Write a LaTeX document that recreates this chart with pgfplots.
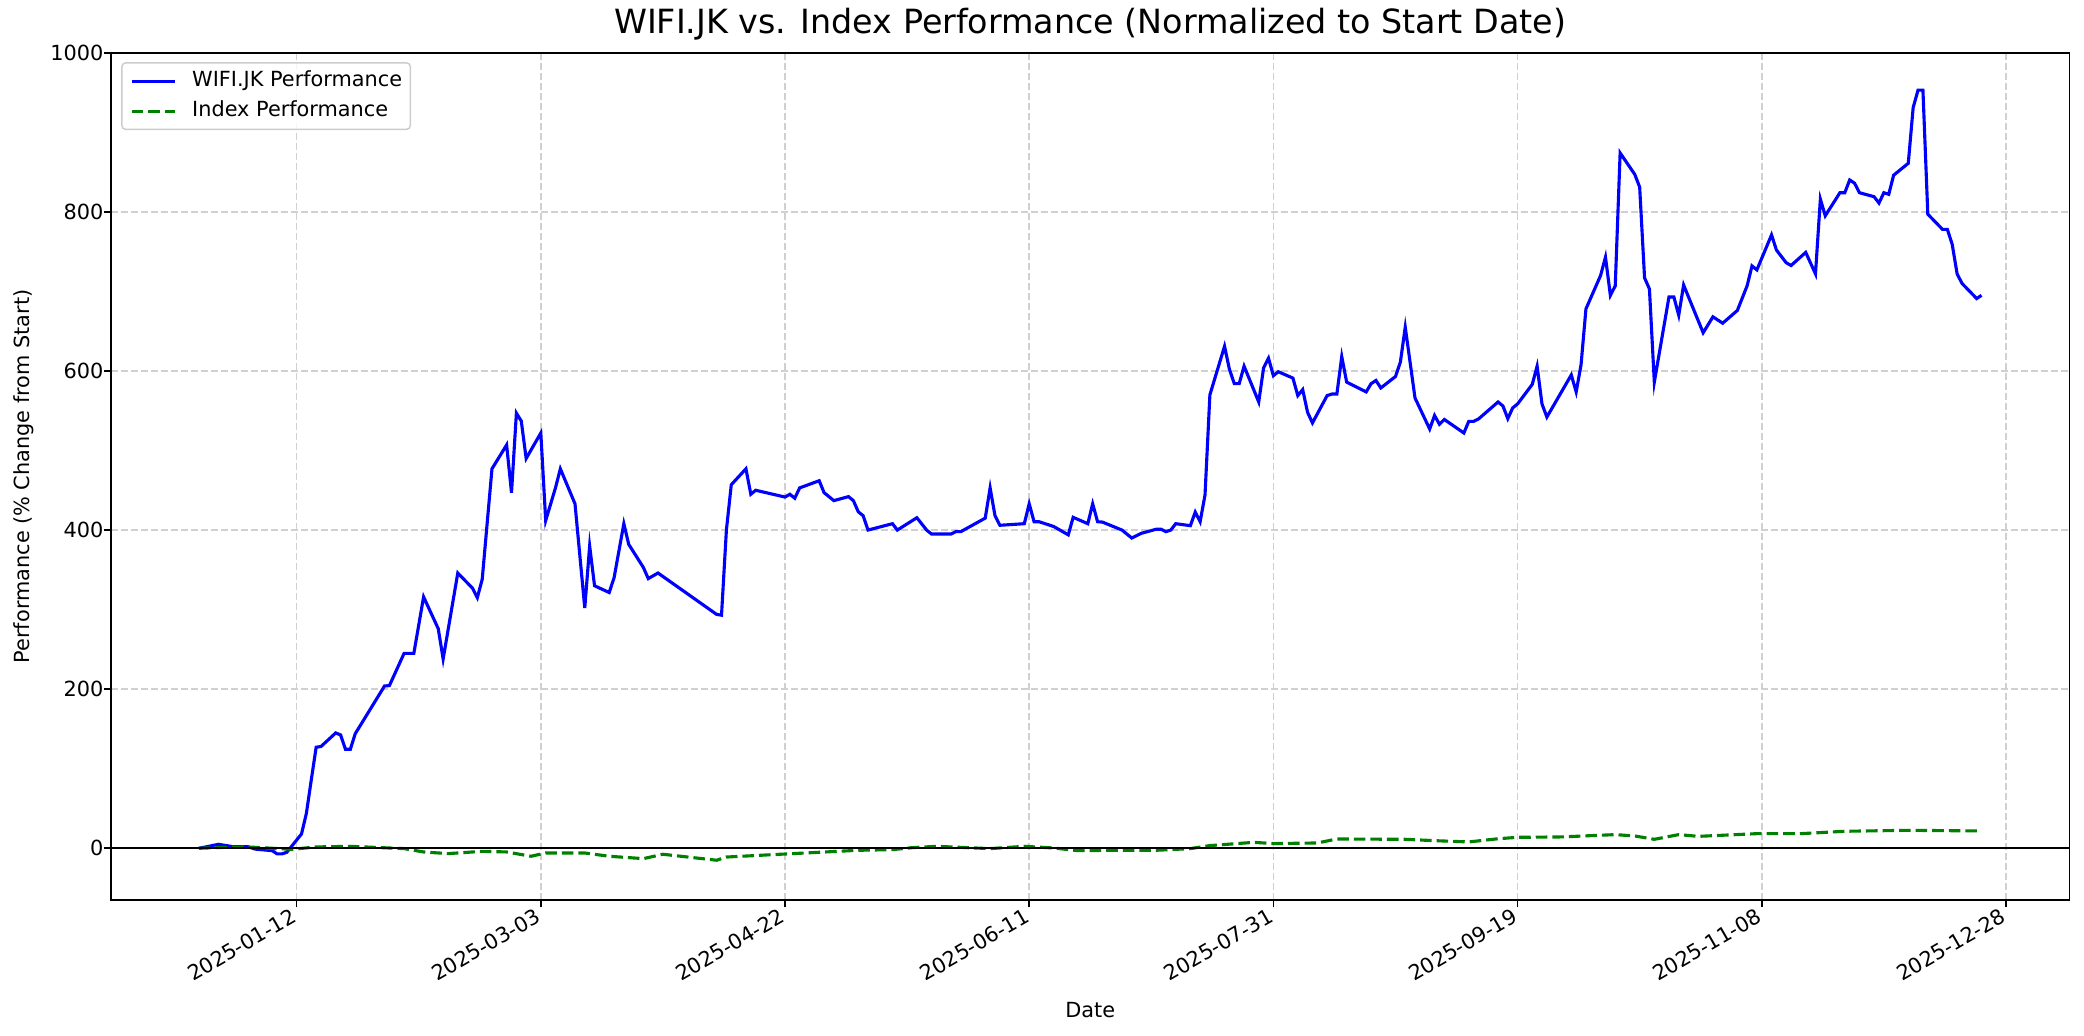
\documentclass[border=0pt]{standalone}
\usepackage{fontspec}
\setmainfont{DejaVu Sans}
\usepackage{pgfplots}
\pgfplotsset{compat=1.18}
\definecolor{mplgreen}{RGB}{0,128,0}
\definecolor{gridgray}{RGB}{208,208,208}
\definecolor{legedge}{RGB}{204,204,204}
\begin{document}
\begin{tikzpicture}
\begin{axis}[
  at={(0,0)}, anchor=south west,
  scale only axis, width=940pt, height=406.7pt,
  xmin=-38, xmax=363, ymin=-65, ymax=1000,
  xtick={0,50,100,150,200,250,300,350},
  xticklabels={2025-01-12,2025-03-03,2025-04-22,2025-06-11,2025-07-31,2025-09-19,2025-11-08,2025-12-28},
  ytick={0,200,400,600,800,1000},
  /pgf/number format/assume math mode=true,
  /pgf/number format/1000 sep={},
  tick pos=left, tick align=outside,
  major tick length=3.5pt,
  every tick/.style={black, line width=0.8pt},
  axis line style={black, line width=0.8pt},
  grid=major,
  major grid style={gridgray, line width=0.8pt, dash pattern=on 3.2pt off 1.6pt},
  xticklabel style={xshift=-3pt, rotate=30, anchor=north east, inner sep=0pt, font=\fontsize{10}{12}\selectfont},
  yticklabel style={inner sep=0pt, anchor=east, font=\fontsize{10}{12}\selectfont},
  title={WIFI.JK vs. Index Performance (Normalized to Start Date)},
  every axis title/.style={at={(axis description cs:0.5,1)}, anchor=south, inner sep=0pt, yshift=6pt, font=\fontsize{16}{19}\selectfont},
  xlabel={Date},
  every axis x label/.style={at={(axis description cs:0.5,0)}, anchor=center, yshift=-52.8pt, font=\fontsize{10}{12}\selectfont},
  ylabel={Performance (\% Change from Start)},
  every axis y label/.style={at={(axis description cs:-0.04447,0.5)}, anchor=center, rotate=90, font=\fontsize{10}{12}\selectfont},
  legend cell align=left,
  legend image code/.code={\draw[#1] (0pt,0pt) -- (20.8pt,0pt);},
  legend style={at={(axis description cs:0,1)}, anchor=north west, xshift=4.8pt, yshift=-4.5pt,
    draw=legedge, line width=0.7pt, rounded corners=2pt, fill=white, fill opacity=0.8, text opacity=1,
    inner xsep=4pt, inner ysep=3.8pt, row sep=4.4pt, column sep=7.5pt,
    nodes={inner sep=0pt, text height=7.5pt, text depth=2.5pt, font=\fontsize{10}{12}\selectfont}},
]
\addplot[blue, line width=1.5pt] coordinates {
(-20,0) (-16,5) (-13,2) (-10,2) (-8.5,-1) (-5,-3) (-4,-7) (-3,-7) (-2,-5)
(1,18) (2,44) (3,86) (4,127) (5,128) (8,145) (9,142.5) (10,124.5) (11,124.5) (12,144)
(18,204) (19,204.5) (22,245) (24,245) (26,316) (29,276) (30,238) (33,346) (36,327) (37,315) (38,338)
(40,477) (43,507) (44,447) (45,547) (46,537) (47,490) (50,522) (51,412) (53,453) (54,477) (57,433)
(59,302) (60,380) (61,330) (64,321.5) (65,340) (67,408) (68,382) (71,353) (72,339) (74,346)
(86,294) (87,293) (88,400) (89,457) (92,477) (93,445) (94,450) (100,441.5) (101,445) (102,440) (103,453)
(107,462) (108,447) (110,437) (113,442) (114,437) (115,423) (116,418) (117,400) (122,408) (123,400)
(127,415.5) (129,400) (130,395) (134,395) (135,398) (136,398) (141,415) (142,453) (143,418) (144,406)
(149,408) (150,433) (151,410.5) (152,410.5) (155,404.5) (158,394) (159,416) (162,408) (163,433) (164,410.5) (165,410)
(169,400) (171,390) (173,396) (176,401) (177,401) (178,398) (179,400) (180,408) (183,405.5) (184,422.6) (185,410.5) (186,444)
(187,570) (190,631) (191,602) (192,584) (193,584) (194,606) (197,561) (198,604) (199,616) (200,594) (201,599)
(204,591) (205,569) (206,576.5) (207,548) (208,534.6) (211,569) (212,571) (213,571) (214,618) (215,586)
(219,573.6) (220,584) (221,588) (222,578.6) (225,593) (226,611) (227,655) (229,566) (232,527) (233,544) (234,533) (235,539)
(239,522) (240,536.6) (241,536.6) (242,539.6) (246,561) (247,556) (248,540) (249,553.5) (250,558.5)
(253,583) (254,606) (255,558.5) (256,542) (261,595) (262,573.6) (263,608) (264,678) (267,720) (268,743) (269,695) (270,707)
(271,874) (274,847) (275,831) (276,717) (277,703) (278,586) (281,693) (282,693) (283,670) (284,708)
(288,648) (290,668) (292,660) (295,676) (297,707) (298,732) (299,727) (302,771) (303,752) (305,736) (306,732.5)
(309,749) (311,722) (312,816) (313,795) (316,824) (317,824) (318,840) (319,836) (320,824) (323,819) (324,811) (325,824) (326,822)
(327,846) (330,861) (331,931) (332,953) (333,953) (334,797) (337,778) (338,778) (339,759) (340,722) (341,710) (344,691) (345,695)
};
\addlegendentry{WIFI.JK Performance}
\addplot[mplgreen, line width=1.5pt, dash pattern=on 5.55pt off 2.4pt] coordinates {
(-20,0) (-16,1) (-10,1.7) (-1,-1.3) (4,1.7) (11,2.5) (22,-0.4) (26,-4.6) (31,-6.7) (38,-3.8) (43,-4.6)
(48,-10) (51,-5.9) (59,-5.9) (64,-10) (71,-13) (75,-7.5) (86,-15) (88,-11) (99,-7.5) (115,-2.5) (122,-1.7)
(126,0.8) (131,2.5) (142,-0.4) (149,2.5) (155,0.4) (160,-3) (167,-2.5) (176,-2.5) (183,-0.4) (187,3.4)
(196,7.5) (200,5.9) (209,6.7) (213,11.7) (227,11.3) (233,9.6) (240,8) (246,12) (250,13.8) (259,14.3)
(270,17.2) (274,15.5) (278,11.3) (283,17.2) (287,15) (299,18.4) (308,18.4) (317,21.4) (330,22.6) (345,21.8)
};
\addlegendentry{Index Performance}
\addplot[black, line width=0.8pt, forget plot] coordinates {(-38,0) (363,0)};
\end{axis}
\pgfresetboundingbox
\path (-53.3pt,-64.8pt) rectangle (947pt,432pt);
\end{tikzpicture}
\end{document}
